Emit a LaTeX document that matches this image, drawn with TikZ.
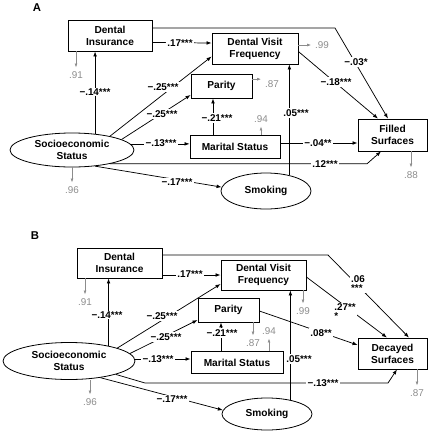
\documentclass[tikz,border=0pt]{standalone}
\usepackage{fontspec}
\setmainfont{Liberation Sans}
\usetikzlibrary{shapes.geometric}
\usetikzlibrary{arrows.meta}
\usetikzlibrary{calc}

\newcommand{\boxfont}{\fontsize{7.6}{8.9}\selectfont\bfseries}
\newcommand{\coeffont}{\fontsize{7.4}{6.8}\selectfont\bfseries}
\newcommand{\residfont}{\fontsize{7.4}{8}\selectfont}
\newcommand{\panelfont}{\fontsize{8.5}{10}\selectfont\bfseries}

\begin{document}
\begin{tikzpicture}[x=0.75pt, y=-0.75pt,
  box/.style={draw, line width=0.6pt, align=center, inner sep=0pt, font=\boxfont},
  oval/.style={box, ellipse},
  coef/.style={fill=white, inner sep=0.8pt, align=left, font=\coeffont},
  resid/.style={text=black!45, inner sep=0.8pt, font=\residfont},
  link/.style={line width=0.55pt, -{Latex[length=3.8pt,width=2.8pt]}},
  residlink/.style={black!45, line width=0.5pt, shorten >=2pt, -{Latex[length=3pt,width=2.2pt]}},
  panel/.style={font=\panelfont}]

\useasboundingbox (0,0) rectangle (429,433);

% ===== panel A : filled surfaces =====
\node[panel] (A) at (37,8) {A};

% variables
\node[box, minimum width=63pt, minimum height=23.25pt] (diA) at (110,35.5) {Dental\\Insurance};
\node[box, minimum width=64.5pt, minimum height=23.25pt] (dvfA) at (255,48.5) {Dental Visit\\Frequency};
\node[box, minimum width=45.75pt, minimum height=18pt] (parA) at (221.5,86) {Parity};
\node[box, minimum width=67.5pt, minimum height=17.25pt] (marA) at (235,146.5) {Marital Status};
\node[box, minimum width=51.75pt, minimum height=24pt] (filA) at (392.5,135) {Filled\\Surfaces};
\node[oval, minimum width=93pt, minimum height=25.5pt] (sesA) at (72,150) {Socioeconomic\\Status};
\node[oval, minimum width=67.5pt, minimum height=27pt] (smoA) at (266,191) {Smoking};

\coordinate (bA1) at (335,28);
\coordinate (bA2) at (367,164);

% paths
\draw[link] (sesA.35) -- (sesA.35 |- diA.south);
\draw[link] ($(diA.east)+(0,7)$) -- ($(dvfA.west)+(0,-5.5)$);
\draw[link] ($(diA.east)+(0,-7.5)$) -- (bA1) -- ($(filA.north)+(-4.5,0)$);
\draw[link] ($(dvfA.east)+(0,3)$) -- ($(filA.north)+(-14.5,0)$);
\draw[link] (sesA.20) -- ($(dvfA.west)+(0,8)$);
\draw[link] (sesA.12) -- ($(parA.west)+(0,9)$);
\draw[link] (sesA.6) -- (sesA.6 -| marA.west);
\draw[link] ($(marA.north)+(-22,0)$) -- ($(parA.south)+(-8.5,0)$);
\draw[link] ($(marA.east)+(0,-3.5)$) -- ($(filA.west)+(0,8)$);
\draw[link] (sesA.-20) -- (sesA.-20 -| bA2) -- ($(filA.south)+(-11.5,0)$);
\draw[link] (sesA.-35) -- (smoA.175);
\draw[link] (smoA.34) -- (smoA.34 |- dvfA.south);

% coefficients
\node[coef] (cA1) at (95,92) {−.14***};
\node[coef] (cA2) at (180,43) {.17***};
\node[coef] (cA3) at (356,62) {−.03*};
\node[coef] (cA4) at (336,82) {−.18***};
\node[coef] (cA5) at (163,87) {−.25***};
\node[coef] (cA6) at (162,114) {−.25***};
\node[coef] (cA7) at (161,143) {−.13***};
\node[coef] (cA8) at (217,118) {−.21***};
\node[coef] (cA9) at (296,113) {.05***};
\node[coef] (cA10) at (318,143) {−.04**};
\node[coef] (cA11) at (325,164) {.12***};
\node[coef] (cA12) at (177,182) {−.17***};

% residuals
\node[resid] (rA1) at (76,75) {.91};
\node[resid] (rA2) at (322,45) {.99};
\node[resid] (rA3) at (272,84) {.87};
\node[resid] (rA4) at (261,119) {.94};
\node[resid] (rA5) at (72,190) {.96};
\node[resid] (rA6) at (411,175) {.88};
\draw[residlink] (diA.south -| rA1) -- (rA1.north);
\draw[residlink] (dvfA.east |- rA2) -- (rA2.west);
\draw[residlink] (parA.east |- rA3.north west) -- (rA3.north west);
\draw[residlink] (marA.north -| rA4) -- (rA4.south);
\draw[residlink] (sesA.south -| rA5) -- (rA5.north);
\draw[residlink] (filA.south -| rA6) -- (rA6.north);

% ===== panel B : decayed surfaces =====
\node[panel] (B) at (35,236) {B};

% variables
\node[box, minimum width=63.75pt, minimum height=22.5pt] (diB) at (119.5,263) {Dental\\Insurance};
\node[box, minimum width=63.75pt, minimum height=22.5pt] (dvfB) at (263.5,275) {Dental Visit\\Frequency};
\node[box, minimum width=45.75pt, minimum height=18pt] (parB) at (228.5,310) {Parity};
\node[box, minimum width=69pt, minimum height=16.5pt] (marB) at (237,362.5) {Marital Status};
\node[box, minimum width=51.75pt, minimum height=23.25pt] (decB) at (392.5,353.5) {Decayed\\Surfaces};
\node[oval, minimum width=99pt, minimum height=27.75pt] (sesB) at (69,361) {Socioeconomic\\Status};
\node[oval, minimum width=67.5pt, minimum height=24pt] (smoB) at (267,414) {Smoking};

\coordinate (bB1) at (328,255);
\coordinate (bB2) at (145,383);
\coordinate (bB3) at (388,383);

% paths
\draw[link] (sesB.21) -- (sesB.21 |- diB.south);
\draw[link] (diB.east |- dvfB.west) -- (dvfB.west);
\draw[link] ($(diB.east)+(0,-8)$) -- (bB1) -- ($(decB.north)+(16.5,0)$);
\draw[link] ($(dvfB.east)+(0,2)$) -- ($(decB.north)+(-5.5,0)$);
\draw[link] ($(parB.east)+(0,1)$) -- ($(decB.west)+(0,-8.5)$);
\draw[link] (sesB.15) -- ($(dvfB.west)+(0,9)$);
\draw[link] (sesB.7) -- ($(parB.west)+(0,10)$);
\draw[link] ($(sesB.east)+(0,-2)$) -- ($(marB.west)+(0,-3.5)$);
\draw[link] ($(marB.north)+(-16,0)$) -- ($(parB.south)+(-7.5,0)$);
\draw[link] (sesB.-16) -- (bB2) -- (bB3) -- ($(decB.south)+(4.5,0)$);
\draw[link] (sesB.-28) -- (smoB.175);
\draw[link] (smoB.31) -- (smoB.31 |- dvfB.south);

% coefficients
\node[coef] (cB1) at (107,315) {−.14***};
\node[coef] (cB2) at (190,274) {.17***};
\node[coef] (cB3) at (358,284) {.06\\***};
\node[coef] (cB4) at (345,312) {.27**\\*};
\node[coef] (cB5) at (321,333) {.08**};
\node[coef] (cB6) at (162,316) {−.25***};
\node[coef] (cB7) at (166,337) {−.25***};
\node[coef] (cB8) at (158,359) {−.13***};
\node[coef] (cB9) at (222,333) {−.21***};
\node[coef] (cB10) at (323,383) {−.13***};
\node[coef] (cB11) at (172,399) {−.17***};
\node[coef] (cB12) at (299,359) {.05***};

% residuals
\node[resid] (rB1) at (85,302) {.91};
\node[resid] (rB2) at (303,311) {.99};
\node[resid] (rB3) at (253,343) {.87};
\node[resid] (rB4) at (269,331) {.94};
\node[resid] (rB5) at (90,402) {.96};
\node[resid] (rB6) at (417,393) {.87};
\draw[residlink] (diB.south -| rB1) -- (rB1.north);
\draw[residlink] (dvfB.south -| rB2) -- (rB2.north);
\draw[residlink] (parB.south -| rB3) -- (rB3.north);
\draw[residlink] (marB.north -| rB4) -- (rB4.south);
\draw[residlink] (sesB.south -| rB5) -- (rB5.north);
\draw[residlink] (decB.south -| rB6) -- (rB6.north);

\end{tikzpicture}
\end{document}
